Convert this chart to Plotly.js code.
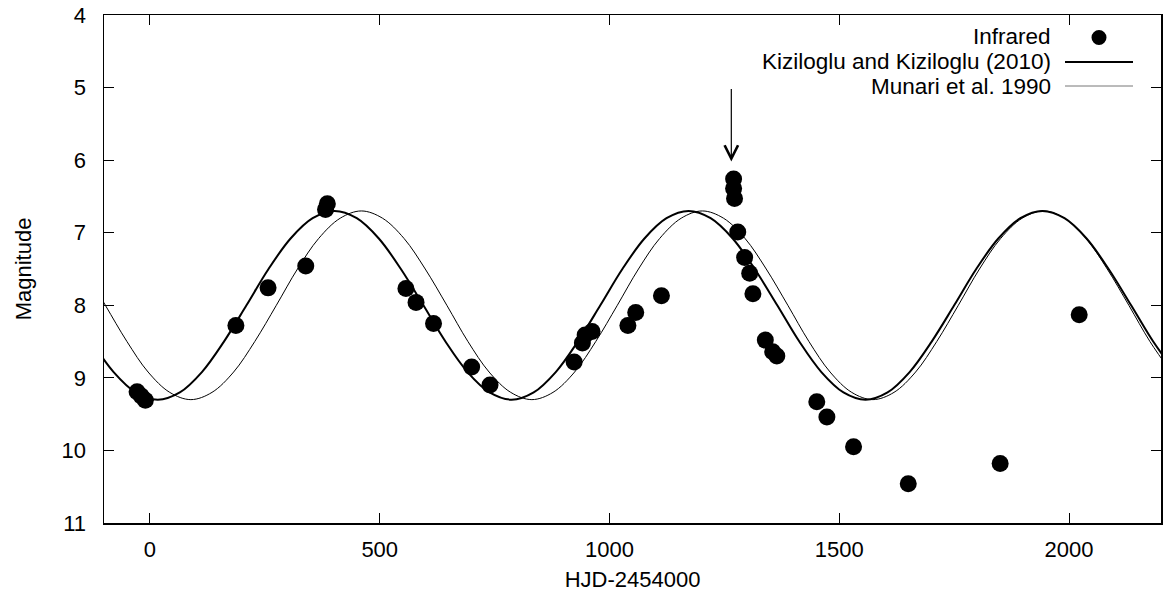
<!DOCTYPE html>
<html>
<head>
<meta charset="utf-8">
<script src="https://cdn.plot.ly/plotly-3.0.1.min.js"></script>
<style>html,body{margin:0;padding:0;background:#fff;}#chart{width:1163px;height:599px;}</style>
</head>
<body>
<div id="chart"></div>
<script>
// Infrared observations (HJD-2454000, magnitude)
const irX = [-28, -19, -10, 187, 257, 339, 382, 386, 557, 579, 617, 700, 740, 923, 941, 947, 962, 1040, 1057, 1113, 1270, 1270, 1272, 1279, 1294, 1305, 1312, 1339, 1355, 1364, 1451, 1473, 1531, 1650, 1850, 2022];
const irY = [9.19, 9.25, 9.31, 8.28, 7.76, 7.46, 6.68, 6.60, 7.77, 7.96, 8.25, 8.85, 9.10, 8.78, 8.52, 8.41, 8.36, 8.28, 8.10, 7.87, 6.26, 6.39, 6.53, 6.99, 7.34, 7.56, 7.84, 8.48, 8.64, 8.70, 9.33, 9.54, 9.95, 10.46, 10.18, 8.13];

// Kiziloglu and Kiziloglu (2010) light curve
const kkX = [-127, -79, -31, 17, 65, 113, 161, 210, 258, 306, 354, 402, 450, 498, 546, 595, 643, 691, 739, 787, 835, 883, 931, 980, 1028, 1076, 1124, 1172, 1220, 1268, 1316, 1365, 1413, 1461, 1509, 1557, 1605, 1653, 1701, 1750, 1798, 1846, 1894, 1942, 1990, 2038, 2086, 2135, 2183, 2231];
const kkY = [8.50, 8.92, 9.20,
  9.30, 9.20, 8.92, 8.50, 8.00, 7.50, 7.08, 6.80, 6.70, 6.80, 7.08, 7.50, 8.00, 8.50, 8.92, 9.20,
  9.30, 9.20, 8.92, 8.50, 8.00, 7.50, 7.08, 6.80, 6.70, 6.80, 7.08, 7.50, 8.00, 8.50, 8.92, 9.20,
  9.30, 9.20, 8.92, 8.50, 8.00, 7.50, 7.08, 6.80, 6.70, 6.80, 7.08, 7.50, 8.00, 8.50, 8.92];

// Munari et al. 1990 light curve
const muX = [-143, -97, -50, -4, 43, 89, 135, 182, 228, 275, 321, 367, 414, 460, 506, 553, 599, 646, 692, 738, 785, 831, 877, 924, 970, 1017, 1063, 1109, 1156, 1202, 1248, 1295, 1341, 1388, 1434, 1480, 1527, 1573, 1619, 1666, 1712, 1759, 1805, 1851, 1898, 1944, 1990, 2037, 2083, 2130, 2176, 2222];
const muY = [7.50, 8.00, 8.50, 8.92, 9.20,
  9.30, 9.20, 8.92, 8.50, 8.00, 7.50, 7.08, 6.80, 6.70, 6.80, 7.08, 7.50, 8.00, 8.50, 8.92, 9.20,
  9.30, 9.20, 8.92, 8.50, 8.00, 7.50, 7.08, 6.80, 6.70, 6.80, 7.08, 7.50, 8.00, 8.50, 8.92, 9.20,
  9.30, 9.20, 8.92, 8.50, 8.00, 7.50, 7.08, 6.80, 6.70, 6.80, 7.08, 7.50, 8.00, 8.50, 8.92];

// Outburst arrow
const arrowX = 1265;
const arrowTail = 5.0;
const arrowTip = 6.02;

const legendNames = ["Infrared", "Kiziloglu and Kiziloglu (2010)", "Munari et al. 1990"];

const FONT = "Liberation Sans, Arial, Helvetica, sans-serif";

const traces = [
  {x: kkX, y: kkY, type: "scatter", mode: "lines", line: {color: "#000", width: 2, shape: "spline", smoothing: 1}, hoverinfo: "skip", name: legendNames[1]},
  {x: muX, y: muY, type: "scatter", mode: "lines", line: {color: "#000", width: 1, shape: "spline", smoothing: 1}, hoverinfo: "skip", name: legendNames[2]},
  {x: irX, y: irY, type: "scatter", mode: "markers", marker: {color: "#000", size: 17, line: {width: 0}}, name: legendNames[0]}
];

// legend (gnuplot style: text right-aligned, sample to the right)
const pl = 104, pr = 1161, pt = 15, pb = 523;
const px = v => (v - pl) / (pr - pl);
const py = v => (pb - v) / (pb - pt);
const legY = [36.3, 61.6, 86.9];

const annotations = legendNames.map((t, i) => ({
  xref: "paper", yref: "paper", x: px(1052), y: py(legY[i]), xanchor: "right", yanchor: "middle",
  text: t, showarrow: false, borderpad: 0, font: {family: FONT, size: 22.5, color: "#000"}
}));
annotations.push({
  x: arrowX, y: arrowTip, ax: arrowX, ay: arrowTail, axref: "x", ayref: "y", xref: "x", yref: "y",
  text: "", showarrow: true, arrowhead: 5, arrowsize: 2.2, arrowwidth: 1.2, arrowcolor: "#000", standoff: 0
});

const shapes = [
  {type: "circle", xref: "paper", yref: "paper", x0: px(1091.5), x1: px(1106.5), y0: py(45), y1: py(30), fillcolor: "#000", line: {width: 0}},
  {type: "line", xref: "paper", yref: "paper", x0: px(1065), x1: px(1133), y0: py(62), y1: py(62), line: {color: "#000", width: 2}},
  {type: "line", xref: "paper", yref: "paper", x0: px(1065), x1: px(1133), y0: py(86), y1: py(86), line: {color: "#777", width: 1}}
];

const axisCommon = {
  showgrid: false, zeroline: false, showline: true, linecolor: "#000", linewidth: 1.5,
  mirror: "allticks", ticks: "inside", ticklen: 10, tickwidth: 1, tickcolor: "#000",
  tickfont: {family: FONT, size: 22, color: "#000"}
};

const layout = {
  width: 1163, height: 599,
  margin: {l: pl, r: 1163 - pr, t: pt, b: 599 - pb},
  paper_bgcolor: "#fff", plot_bgcolor: "#fff",
  showlegend: false,
  font: {family: FONT, size: 22, color: "#000"},
  xaxis: Object.assign({}, axisCommon, {
    range: [-100, 2200], tickmode: "linear", tick0: 0, dtick: 500, ticklabelstandoff: 6,
    title: {text: "HJD-2454000", font: {family: FONT, size: 22, color: "#000"}, standoff: 10}
  }),
  yaxis: Object.assign({}, axisCommon, {
    range: [11, 4], tickmode: "linear", tick0: 4, dtick: 1, ticklabelstandoff: 12,
    title: {text: "Magnitude", font: {family: FONT, size: 22, color: "#000"}, standoff: 24}
  }),
  annotations: annotations,
  shapes: shapes
};

Plotly.newPlot("chart", traces, layout, {displayModeBar: false, staticPlot: true});
</script>
</body>
</html>
